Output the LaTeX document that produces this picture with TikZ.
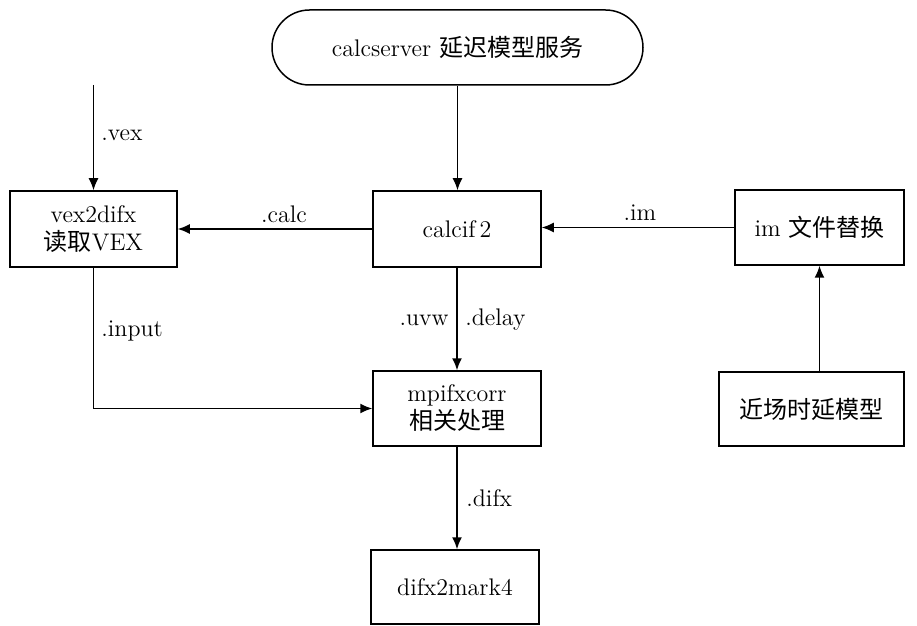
\documentclass[tikz,border=0pt]{standalone}
\usepackage{fontspec}
\newfontfamily\cjk{Noto Sans CJK SC}
\usetikzlibrary{arrows.meta,shapes.misc}
\begin{document}
\begin{tikzpicture}[x=0.5pt,y=-0.5pt,
  font=\fontsize{12}{14}\selectfont,
  box/.style={draw,line width=0.75pt,inner sep=0pt,align=center,
    minimum width=84pt,minimum height=38pt},
  pill/.style={draw,line width=0.75pt,rounded rectangle,inner sep=0pt,
    minimum width=185.5pt,minimum height=37.5pt},
  flow/.style={line width=0.75pt,-{Latex[length=6pt,width=5pt]}},
  lbl/.style={inner sep=0pt}]
\useasboundingbox (0,0) rectangle (917,626);

% processing blocks
\node[pill] (srv) at (457.5,47.5) {calcserver {\cjk 延迟模型服务}};
\node[box,minimum width=83.5pt] (vex) at (93.5,229) {vex2difx\\{\cjk 读取}VEX};
\node[box] (calc) at (457,229) {calcif\,2};
\node[box,minimum width=84.5pt,minimum height=37.5pt] (im) at (819.5,227.5) {im {\cjk 文件替换}};
\node[box,minimum height=37.5pt] (corr) at (457,408.5) {mpifxcorr\\{\cjk 相关处理}};
\node[box,minimum width=92.5pt,minimum height=37pt] (near) at (811.5,409) {\cjk 近场时延模型};
\node[box,minimum height=37pt] (mark) at (455,587) {difx2mark4};

% input of the schedule file
\coordinate (vexin) at (93.5,85);
\draw[flow] (vexin) -- (vex.north);
\node[lbl,anchor=west] (lvex) at (101,135) {.vex};

% data flow between blocks
\draw[flow] (srv.south) -- (srv.south |- calc.north);
\draw[flow] (calc.west) -- (vex.east);
\node[lbl] (lcalc) at (284,214) {.calc};
\draw[flow] (im.west) -- (im.west -| calc.east);
\node[lbl] (lim) at (640,213) {.im};
\draw[flow] (near.north -| im.south) -- (im.south);
\draw[flow] (calc.south) -- (corr.north);
\node[lbl,anchor=east] (luvw) at (449,320) {.uvw};
\node[lbl,anchor=west] (ldelay) at (465,320) {.delay};
\draw[flow] (vex.south) |- (corr.west);
\node[lbl,anchor=west] (linput) at (101,331) {.input};
\draw[flow] (corr.south) -- (corr.south |- mark.north);
\node[lbl,anchor=west] (ldifx) at (466,498) {.difx};
\end{tikzpicture}
\end{document}
